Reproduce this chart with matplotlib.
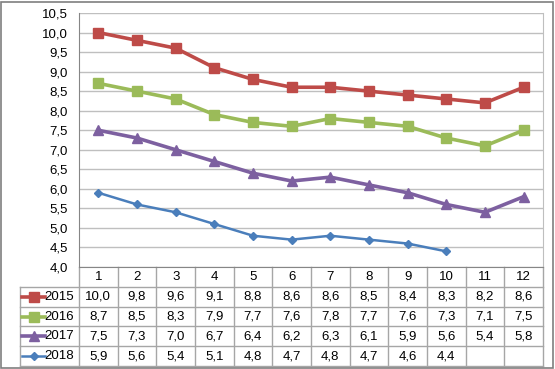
import matplotlib.pyplot as plt
from matplotlib.patches import Rectangle

months = [str(i) for i in range(1, 13)]
series_names = ["2015", "2016", "2017", "2018"]
v2015 = [10.0, 9.8, 9.6, 9.1, 8.8, 8.6, 8.6, 8.5, 8.4, 8.3, 8.2, 8.6]
v2016 = [8.7, 8.5, 8.3, 7.9, 7.7, 7.6, 7.8, 7.7, 7.6, 7.3, 7.1, 7.5]
v2017 = [7.5, 7.3, 7.0, 6.7, 6.4, 6.2, 6.3, 6.1, 5.9, 5.6, 5.4, 5.8]
v2018 = [5.9, 5.6, 5.4, 5.1, 4.8, 4.7, 4.8, 4.7, 4.6, 4.4]
yticks = [4.0, 4.5, 5.0, 5.5, 6.0, 6.5, 7.0, 7.5, 8.0, 8.5, 9.0, 9.5, 10.0, 10.5]

colors = ["#BE4B48", "#9BBB59", "#7D60A0", "#4A7EBB"]
markers = ["s", "s", "^", "D"]
msizes = [7, 7, 7.5, 4.5]
values = [v2015, v2016, v2017, v2018]

plt.rcParams['font.family'] = ['Liberation Sans', 'DejaVu Sans']
fig = plt.figure(figsize=(5.55, 3.69), dpi=100)
W, H = 555, 369
ax = fig.add_axes([79 / W, 1 - 267 / H, (543 - 79) / W, (267 - 13) / H])

x = list(range(1, 13))
for name, vals, c, m, ms in zip(series_names, values, colors, markers, msizes):
    ax.plot(x[:len(vals)], vals, color=c, lw=2.6 if m != "D" else 1.8,
            marker=m, ms=ms, mfc=c, mec=c, label=name, zorder=3)

ax.set_xlim(0.5, 12.5)
ax.set_ylim(4.0, 10.5)
ax.set_yticks(yticks)
ax.set_yticklabels([f"{t:.1f}".replace(".", ",") for t in yticks], fontsize=9.5)
ax.set_xticks([])
ax.tick_params(axis='y', length=0, pad=8)
ax.grid(axis='y', color='#BFBFBF', lw=1)
for s in ['top']:
    ax.spines[s].set_visible(False)
ax.spines['left'].set_color('#868686')
ax.spines['right'].set_color('#BFBFBF')
ax.spines['bottom'].set_color('#868686')

# data table below the axes (axes-fraction y, data x)
trans = ax.get_xaxis_transform()
rh = 19.8 / 254
xl = 0.5 - (79 - 20) / ((543 - 79) / 12)
gc = '#A6A6A6'
nrows = len(series_names)
ybot = -rh * (nrows + 1)
# vertical lines
for i in range(13):
    ax.plot([0.5 + i, 0.5 + i], [0, ybot], transform=trans, color=gc, lw=1, clip_on=False)
ax.plot([xl, xl], [-rh, ybot], transform=trans, color=gc, lw=1, clip_on=False)
# horizontal lines
for r in range(1, nrows + 2):
    ax.plot([xl, 12.5], [-rh * r, -rh * r], transform=trans, color=gc, lw=1, clip_on=False)
for i, mth in enumerate(months):
    ax.text(i + 1, -rh * 0.5, mth, transform=trans, ha='center', va='center', fontsize=9.5)
for r, (name, vals, c, m, ms) in enumerate(zip(series_names, values, colors, markers, msizes)):
    yc = -rh * (r + 1.5)
    lx0, lx1 = xl + 0.05, xl + 0.65
    ax.plot([lx0, lx1], [yc, yc], transform=trans, color=c, lw=2.6 if m != "D" else 1.8,
            clip_on=False)
    ax.plot([(lx0 + lx1) / 2], [yc], transform=trans, color=c, marker=m, ms=ms,
            clip_on=False)
    ax.text(lx1 - 0.02, yc, name, transform=trans, ha='left', va='center', fontsize=9.5)
    for i, v in enumerate(vals):
        ax.text(i + 1, yc, f"{v:.1f}".replace(".", ","), transform=trans,
                ha='center', va='center', fontsize=9.5)

fig.patches.append(Rectangle((1 / W, 1 / H), 1 - 3 / W, 1 - 3 / H, transform=fig.transFigure,
                             fill=False, edgecolor='#7F7F7F', lw=1.2))
fig.savefig("out.png", dpi=100)
